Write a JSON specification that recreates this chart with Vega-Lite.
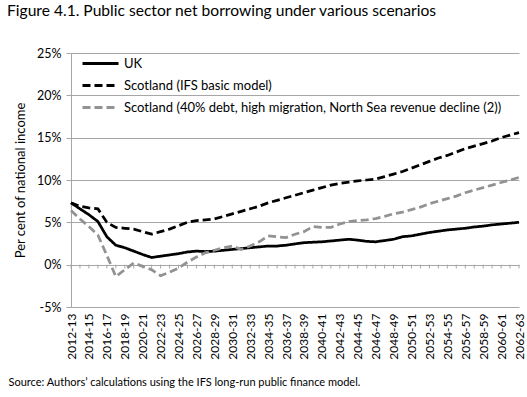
{
  "$schema": "https://vega.github.io/schema/vega-lite/v6.json",
  "width": 448,
  "height": 254,
  "padding": {"left": 7, "top": 4, "right": 2, "bottom": 5},
  "config": {"font": "Lato", "view": {"stroke": null}},
  "title": {"text": "Figure 4.1. Public sector net borrowing under various scenarios", "anchor": "start", "frame": "bounds", "fontSize": 15.6, "fontWeight": "normal", "color": "black", "offset": 27, "dx": -1},
  "data": {"values": [
    {"year":"2012-13","series":"UK","value":7.3},{"year":"2013-14","series":"UK","value":6.6},{"year":"2014-15","series":"UK","value":5.9},{"year":"2015-16","series":"UK","value":5.1},{"year":"2016-17","series":"UK","value":3.3},{"year":"2017-18","series":"UK","value":2.3},{"year":"2018-19","series":"UK","value":2.0},{"year":"2019-20","series":"UK","value":1.6},{"year":"2020-21","series":"UK","value":1.2},{"year":"2021-22","series":"UK","value":0.85},{"year":"2022-23","series":"UK","value":1.0},{"year":"2023-24","series":"UK","value":1.15},{"year":"2024-25","series":"UK","value":1.3},{"year":"2025-26","series":"UK","value":1.5},{"year":"2026-27","series":"UK","value":1.6},{"year":"2027-28","series":"UK","value":1.55},{"year":"2028-29","series":"UK","value":1.6},{"year":"2029-30","series":"UK","value":1.7},{"year":"2030-31","series":"UK","value":1.8},{"year":"2031-32","series":"UK","value":1.9},{"year":"2032-33","series":"UK","value":2.0},{"year":"2033-34","series":"UK","value":2.1},{"year":"2034-35","series":"UK","value":2.2},{"year":"2035-36","series":"UK","value":2.2},{"year":"2036-37","series":"UK","value":2.3},{"year":"2037-38","series":"UK","value":2.45},{"year":"2038-39","series":"UK","value":2.6},{"year":"2039-40","series":"UK","value":2.65},{"year":"2040-41","series":"UK","value":2.7},{"year":"2041-42","series":"UK","value":2.8},{"year":"2042-43","series":"UK","value":2.9},{"year":"2043-44","series":"UK","value":3.0},{"year":"2044-45","series":"UK","value":2.9},{"year":"2045-46","series":"UK","value":2.75},{"year":"2046-47","series":"UK","value":2.7},{"year":"2047-48","series":"UK","value":2.85},{"year":"2048-49","series":"UK","value":3.0},{"year":"2049-50","series":"UK","value":3.3},{"year":"2050-51","series":"UK","value":3.4},{"year":"2051-52","series":"UK","value":3.6},{"year":"2052-53","series":"UK","value":3.8},{"year":"2053-54","series":"UK","value":3.95},{"year":"2054-55","series":"UK","value":4.1},{"year":"2055-56","series":"UK","value":4.2},{"year":"2056-57","series":"UK","value":4.3},{"year":"2057-58","series":"UK","value":4.45},{"year":"2058-59","series":"UK","value":4.55},{"year":"2059-60","series":"UK","value":4.7},{"year":"2060-61","series":"UK","value":4.8},{"year":"2061-62","series":"UK","value":4.9},{"year":"2062-63","series":"UK","value":5.0},
    {"year":"2012-13","series":"IFS","value":7.3},{"year":"2013-14","series":"IFS","value":6.9},{"year":"2014-15","series":"IFS","value":6.7},{"year":"2015-16","series":"IFS","value":6.6},{"year":"2016-17","series":"IFS","value":5.0},{"year":"2017-18","series":"IFS","value":4.4},{"year":"2018-19","series":"IFS","value":4.3},{"year":"2019-20","series":"IFS","value":4.2},{"year":"2020-21","series":"IFS","value":3.9},{"year":"2021-22","series":"IFS","value":3.6},{"year":"2022-23","series":"IFS","value":3.9},{"year":"2023-24","series":"IFS","value":4.2},{"year":"2024-25","series":"IFS","value":4.6},{"year":"2025-26","series":"IFS","value":5.0},{"year":"2026-27","series":"IFS","value":5.2},{"year":"2027-28","series":"IFS","value":5.3},{"year":"2028-29","series":"IFS","value":5.4},{"year":"2029-30","series":"IFS","value":5.7},{"year":"2030-31","series":"IFS","value":6.0},{"year":"2031-32","series":"IFS","value":6.3},{"year":"2032-33","series":"IFS","value":6.6},{"year":"2033-34","series":"IFS","value":6.9},{"year":"2034-35","series":"IFS","value":7.3},{"year":"2035-36","series":"IFS","value":7.6},{"year":"2036-37","series":"IFS","value":7.9},{"year":"2037-38","series":"IFS","value":8.2},{"year":"2038-39","series":"IFS","value":8.5},{"year":"2039-40","series":"IFS","value":8.8},{"year":"2040-41","series":"IFS","value":9.1},{"year":"2041-42","series":"IFS","value":9.4},{"year":"2042-43","series":"IFS","value":9.6},{"year":"2043-44","series":"IFS","value":9.75},{"year":"2044-45","series":"IFS","value":9.9},{"year":"2045-46","series":"IFS","value":10.0},{"year":"2046-47","series":"IFS","value":10.1},{"year":"2047-48","series":"IFS","value":10.4},{"year":"2048-49","series":"IFS","value":10.7},{"year":"2049-50","series":"IFS","value":11.0},{"year":"2050-51","series":"IFS","value":11.4},{"year":"2051-52","series":"IFS","value":11.8},{"year":"2052-53","series":"IFS","value":12.2},{"year":"2053-54","series":"IFS","value":12.6},{"year":"2054-55","series":"IFS","value":12.9},{"year":"2055-56","series":"IFS","value":13.3},{"year":"2056-57","series":"IFS","value":13.7},{"year":"2057-58","series":"IFS","value":14.0},{"year":"2058-59","series":"IFS","value":14.3},{"year":"2059-60","series":"IFS","value":14.6},{"year":"2060-61","series":"IFS","value":15.0},{"year":"2061-62","series":"IFS","value":15.3},{"year":"2062-63","series":"IFS","value":15.6},
    {"year":"2012-13","series":"ALT","value":6.4},{"year":"2013-14","series":"ALT","value":5.4},{"year":"2014-15","series":"ALT","value":4.5},{"year":"2015-16","series":"ALT","value":3.5},{"year":"2016-17","series":"ALT","value":1.1},{"year":"2017-18","series":"ALT","value":-1.4},{"year":"2018-19","series":"ALT","value":-0.6},{"year":"2019-20","series":"ALT","value":0.2},{"year":"2020-21","series":"ALT","value":-0.2},{"year":"2021-22","series":"ALT","value":-0.6},{"year":"2022-23","series":"ALT","value":-1.3},{"year":"2023-24","series":"ALT","value":-0.9},{"year":"2024-25","series":"ALT","value":-0.4},{"year":"2025-26","series":"ALT","value":0.3},{"year":"2026-27","series":"ALT","value":0.9},{"year":"2027-28","series":"ALT","value":1.4},{"year":"2028-29","series":"ALT","value":1.7},{"year":"2029-30","series":"ALT","value":2.0},{"year":"2030-31","series":"ALT","value":2.2},{"year":"2031-32","series":"ALT","value":1.8},{"year":"2032-33","series":"ALT","value":2.2},{"year":"2033-34","series":"ALT","value":2.7},{"year":"2034-35","series":"ALT","value":3.4},{"year":"2035-36","series":"ALT","value":3.3},{"year":"2036-37","series":"ALT","value":3.2},{"year":"2037-38","series":"ALT","value":3.6},{"year":"2038-39","series":"ALT","value":3.9},{"year":"2039-40","series":"ALT","value":4.5},{"year":"2040-41","series":"ALT","value":4.4},{"year":"2041-42","series":"ALT","value":4.4},{"year":"2042-43","series":"ALT","value":4.8},{"year":"2043-44","series":"ALT","value":5.1},{"year":"2044-45","series":"ALT","value":5.2},{"year":"2045-46","series":"ALT","value":5.3},{"year":"2046-47","series":"ALT","value":5.45},{"year":"2047-48","series":"ALT","value":5.7},{"year":"2048-49","series":"ALT","value":6.0},{"year":"2049-50","series":"ALT","value":6.2},{"year":"2050-51","series":"ALT","value":6.5},{"year":"2051-52","series":"ALT","value":6.8},{"year":"2052-53","series":"ALT","value":7.2},{"year":"2053-54","series":"ALT","value":7.5},{"year":"2054-55","series":"ALT","value":7.8},{"year":"2055-56","series":"ALT","value":8.1},{"year":"2056-57","series":"ALT","value":8.5},{"year":"2057-58","series":"ALT","value":8.8},{"year":"2058-59","series":"ALT","value":9.1},{"year":"2059-60","series":"ALT","value":9.4},{"year":"2060-61","series":"ALT","value":9.7},{"year":"2061-62","series":"ALT","value":10.0},{"year":"2062-63","series":"ALT","value":10.3}
  ]},
  "encoding": {
    "x": {
      "field": "year", "type": "ordinal",
      "scale": {"type": "point", "padding": 0},
      "axis": {
        "labelExpr": "toNumber(substring(datum.value, 0, 4)) % 2 == 0 ? datum.value : ''",
        "labelAngle": -90, "labelFontSize": 12, "labelColor": "black", "labelPadding": 6,
        "labelOverlap": false, "labelBound": false, "labelFlush": false,
        "ticks": false, "domain": false, "grid": false,
        "title": "Source: Authors\u2019 calculations using the IFS long-run public finance model.",
        "titleFontSize": 11, "titleFontWeight": "normal", "titleColor": "black",
        "titleAnchor": "start", "titleAlign": "left", "titleX": -63, "titleY": 78, "titleBaseline": "alphabetic"
      }
    }
  },
  "layer": [
    {
      "transform": [{"filter": "datum.series == 'UK'"}],
      "mark": {"type": "rule", "color": "#a6a6a6", "strokeWidth": 1},
      "encoding": {"y": {"datum": 0, "type": "quantitative"}, "y2": {"datum": -0.45}}
    },
    {
      "mark": {"type": "line", "strokeWidth": 2.75},
      "encoding": {
        "y": {
          "field": "value", "type": "quantitative",
          "scale": {"domain": [-5, 25], "nice": false},
          "axis": {
            "values": [-5, 0, 5, 10, 15, 20, 25], "labelExpr": "datum.value + '%'",
            "labelFontSize": 12.5, "labelColor": "black", "labelPadding": 5,
            "grid": true, "gridColor": "#a6a6a6", "domainColor": "#a6a6a6", "tickColor": "#a6a6a6", "tickSize": 5,
            "title": "Per cent of national income", "titleFontSize": 13, "titleFontWeight": "normal", "titleColor": "black", "titlePadding": 9
          }
        },
        "color": {
          "field": "series", "type": "nominal",
          "scale": {"domain": ["UK", "IFS", "ALT"], "range": ["#000000", "#000000", "#929292"]},
          "legend": {
            "title": null, "orient": "none", "legendX": 19, "legendY": 0,
            "symbolType": "M-2,0H2", "symbolSize": 324, "symbolStrokeWidth": 3, "symbolFillColor": "transparent",
            "labelFontSize": 13, "labelColor": "black", "rowPadding": 4, "labelOffset": 13, "labelLimit": 0,
            "labelExpr": "datum.value == 'UK' ? 'UK' : datum.value == 'IFS' ? 'Scotland (IFS basic model)' : 'Scotland (40% debt, high migration, North Sea revenue decline (2))'"
          }
        },
        "strokeDash": {
          "field": "series", "type": "nominal",
          "scale": {"domain": ["UK", "IFS", "ALT"], "range": [[1, 0], [8, 4], [8, 4]]}
        }
      }
    }
  ]
}
